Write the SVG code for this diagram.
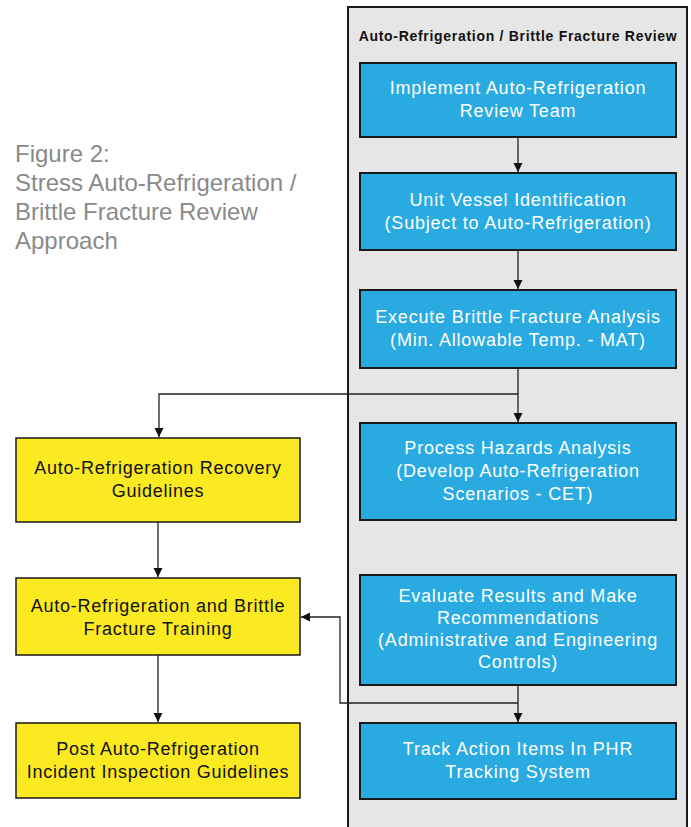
<svg xmlns="http://www.w3.org/2000/svg" width="691" height="827" viewBox="0 0 691 827">
<style>
.cap{font-family:"Liberation Sans",Arial,sans-serif;font-size:24px;fill:#8a8a8a}
.ttl{font-family:"Liberation Sans",Arial,sans-serif;font-size:14px;font-weight:bold;fill:#111;text-anchor:middle;letter-spacing:0.7px}
.blue rect{fill:#29abe2;stroke:#1a1a1a;stroke-width:2}
.blue text{font-family:"Liberation Sans",Arial,sans-serif;font-size:18px;fill:#fff;text-anchor:middle;letter-spacing:0.8px}
.yel rect{fill:#fbe921;stroke:#1a1a1a;stroke-width:1.5}
.yel text{font-family:"Liberation Sans",Arial,sans-serif;font-size:18px;fill:#111;text-anchor:middle;letter-spacing:0.75px}
.conn path{fill:none;stroke:#222;stroke-width:1.3}
</style>
<defs>
<marker id="ah" markerWidth="10" markerHeight="10" refX="9" refY="5" orient="auto" markerUnits="userSpaceOnUse">
<path d="M0,0.5 L9,5 L0,9.5 Z" fill="#111"/>
</marker>
</defs>
<rect width="691" height="827" fill="#fff"/>
<g id="caption">
<text class="cap" x="15" y="162">Figure 2:</text>
<text class="cap" x="15" y="191">Stress Auto-Refrigeration /</text>
<text class="cap" x="15" y="220">Brittle Fracture Review</text>
<text class="cap" x="15" y="249">Approach</text>
</g>
<g id="container">
<rect x="348" y="7" width="339" height="830" fill="#e6e6e6" stroke="#1a1a1a" stroke-width="2"/>
<text class="ttl" x="518" y="41">Auto-Refrigeration / Brittle Fracture Review</text>
</g>
<g id="connectors" class="conn">
<path d="M518,137 V172" marker-end="url(#ah)"/>
<path d="M518,250 V289" marker-end="url(#ah)"/>
<path d="M518,368 V422" marker-end="url(#ah)"/>
<path d="M518,394 H159 V437" marker-end="url(#ah)"/>
<path d="M158,522 V577" marker-end="url(#ah)"/>
<path d="M158,655 V722" marker-end="url(#ah)"/>
<path d="M518,685 V722" marker-end="url(#ah)"/>
<path d="M518,703 H340 V617 H301" marker-end="url(#ah)"/>
</g>
<g id="n1" class="blue"><rect x="360" y="63" width="316" height="74"/>
<text x="518" y="94">Implement Auto-Refrigeration</text><text x="518" y="117">Review Team</text></g>
<g id="n2" class="blue"><rect x="360" y="173" width="316" height="77"/>
<text x="518" y="206">Unit Vessel Identification</text><text x="518" y="229">(Subject to Auto-Refrigeration)</text></g>
<g id="n3" class="blue"><rect x="360" y="290" width="316" height="78"/>
<text x="518" y="323">Execute Brittle Fracture Analysis</text><text x="518" y="346">(Min. Allowable Temp. - MAT)</text></g>
<g id="n4" class="blue"><rect x="360" y="423" width="316" height="97"/>
<text x="518" y="454">Process Hazards Analysis</text><text x="518" y="477">(Develop Auto-Refrigeration</text><text x="518" y="500">Scenarios - CET)</text></g>
<g id="n5" class="blue"><rect x="360" y="575" width="316" height="110"/>
<text x="518" y="602">Evaluate Results and Make</text><text x="518" y="624">Recommendations</text><text x="518" y="646">(Administrative and Engineering</text><text x="518" y="668">Controls)</text></g>
<g id="n6" class="blue"><rect x="360" y="723" width="316" height="76"/>
<text x="518" y="755">Track Action Items In PHR</text><text x="518" y="778">Tracking System</text></g>
<g id="y1" class="yel"><rect x="16" y="438" width="284" height="84"/>
<text x="158" y="474">Auto-Refrigeration Recovery</text><text x="158" y="497">Guidelines</text></g>
<g id="y2" class="yel"><rect x="16" y="578" width="284" height="77"/>
<text x="158" y="612">Auto-Refrigeration and Brittle</text><text x="158" y="635">Fracture Training</text></g>
<g id="y3" class="yel"><rect x="16" y="723" width="284" height="75"/>
<text x="158" y="755">Post Auto-Refrigeration</text><text x="158" y="778">Incident Inspection Guidelines</text></g>
</svg>
